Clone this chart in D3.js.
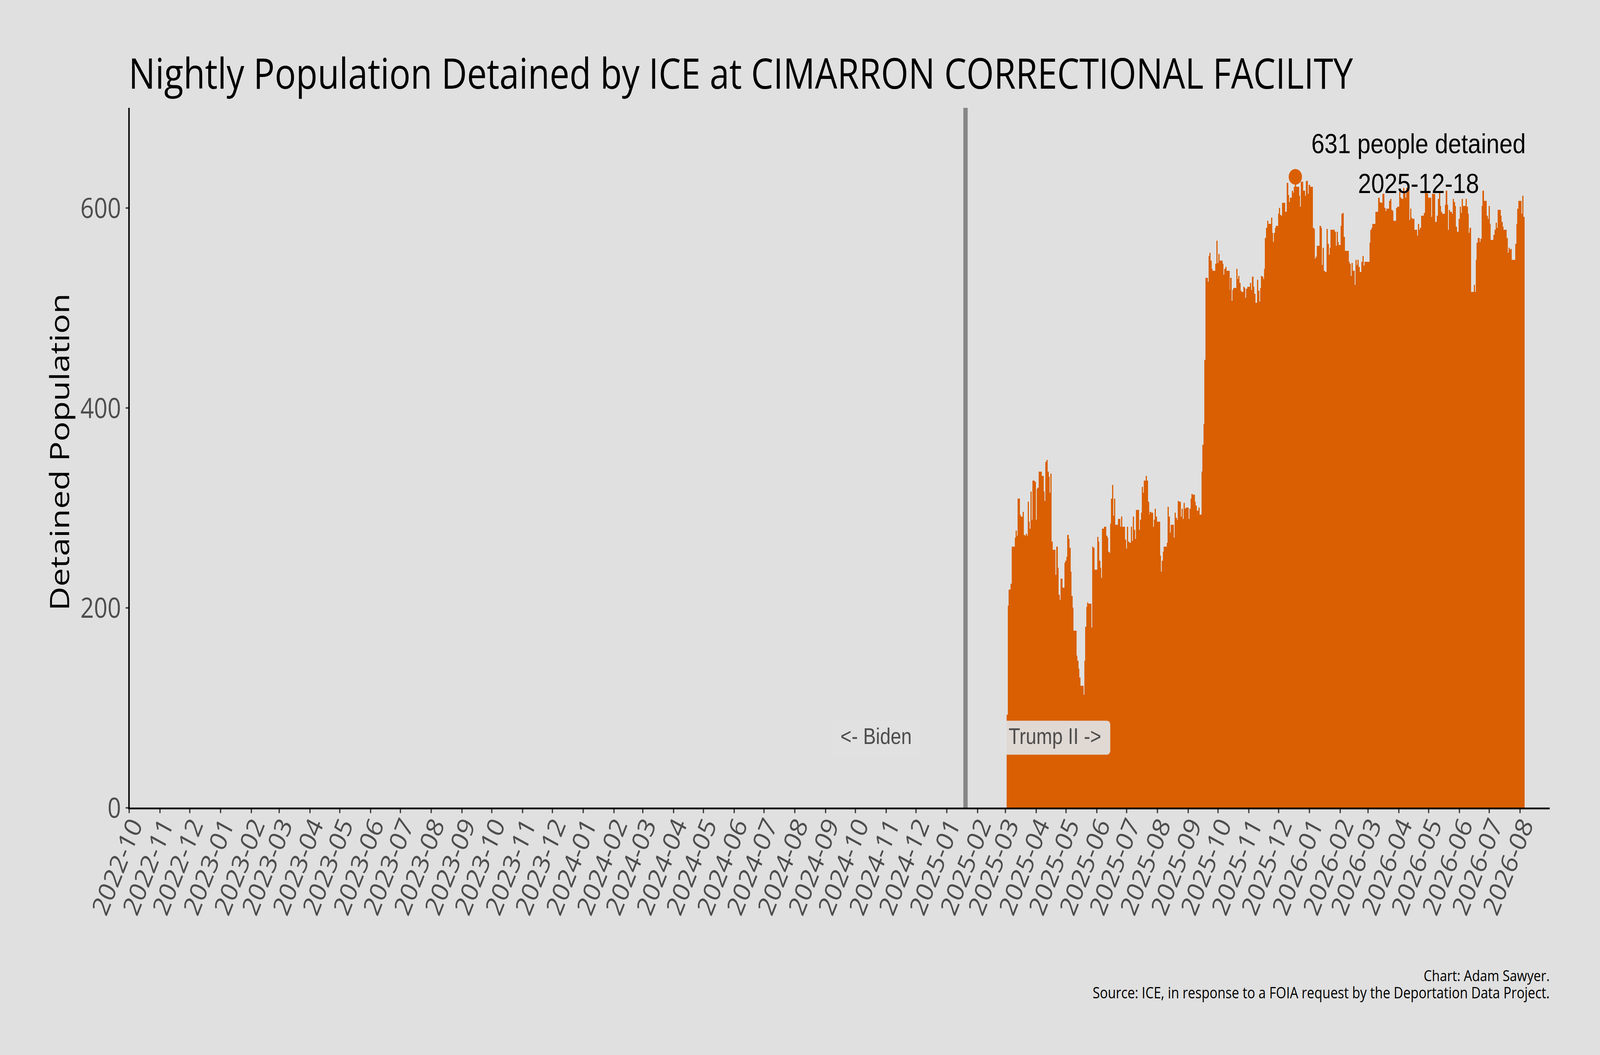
<!DOCTYPE html>
<html>
<head>
<meta charset="utf-8">
<script src="https://cdn.jsdelivr.net/npm/d3@7"></script>
<style>
  html, body { margin: 0; padding: 0; background: #e0e0e0; overflow: hidden; width: 100%; height: 100%; }
  svg { display: block; width: 100vw; height: 100vh; }
</style>
</head>
<body>
<svg id="chart" viewBox="0 0 4800 2700" preserveAspectRatio="none"></svg>
<script>
// ---------------- data ----------------
const titleText = "Nightly Population Detained by ICE at CIMARRON CORRECTIONAL FACILITY";
const yAxisTitle = "Detained Population";
const captionLines = [
  "Chart: Adam Sawyer.",
  "Source: ICE, in response to a FOIA request by the Deportation Data Project."
];
const xDomain = ["2022-10-01", "2026-08-31"];
const yDomain = [0, 700];
const yTicks = [0, 200, 400, 600];
const tickFormat = "%Y-%m";

const firstDate = "2025-03-03";   // one value per night from this date
const nightlyValues = [
  93,202,218,218,224,261,261,261,270,277,
  272,309,309,293,291,291,296,273,272,274,
  272,306,286,279,316,288,327,327,326,288,
  319,320,336,336,336,332,332,316,307,346,
  348,336,331,315,334,266,258,258,258,233,
  261,240,213,208,229,229,220,220,245,247,
  251,273,269,260,236,212,200,177,177,177,
  152,147,139,130,122,122,122,113,147,181,
  201,205,204,204,204,180,261,260,238,238,
  238,271,266,247,240,230,279,279,281,281,
  272,270,256,255,284,309,323,292,309,283,
  283,283,289,289,281,291,281,281,281,268,
  259,281,266,265,265,281,267,291,278,269,
  298,298,298,278,288,295,321,315,327,327,
  332,327,306,293,296,295,295,281,288,299,
  291,286,286,286,252,236,247,256,261,261,
  261,265,301,291,275,283,283,283,270,295,
  290,288,307,306,306,291,299,289,305,299,
  300,300,300,289,299,309,314,313,313,306,
  302,297,297,300,293,293,336,363,384,448,
  530,530,526,552,555,547,539,537,537,537,
  544,567,545,554,547,547,547,544,533,539,
  541,537,537,537,518,530,507,518,520,520,
  520,539,529,532,525,517,516,516,521,520,
  510,519,521,521,521,525,518,531,521,514,
  505,505,528,517,506,520,532,531,529,539,
  570,580,587,584,584,584,590,575,566,575,
  580,582,582,594,600,593,592,605,605,605,
  596,596,625,613,606,610,610,617,615,621,
  631,621,621,621,612,601,626,626,617,617,
  612,627,627,614,623,621,621,621,580,579,
  549,551,562,562,562,582,580,543,560,537,
  536,536,579,564,553,560,578,578,578,578,
  576,562,576,566,563,563,582,594,595,571,
  557,557,557,557,546,544,532,545,537,537,
  523,548,543,548,541,536,536,546,552,542,
  546,546,546,546,546,565,578,580,584,584,
  584,596,596,596,610,606,605,605,614,614,
  600,597,599,599,599,607,609,598,597,587,
  587,587,600,601,601,616,610,609,609,620,
  615,610,620,616,620,588,599,590,589,589,
  578,578,578,572,584,578,580,592,592,592,
  595,616,616,614,610,610,610,591,614,614,
  614,586,586,592,609,616,602,596,594,594,
  594,603,617,603,578,598,596,596,594,609,
  606,602,581,576,576,589,601,595,609,602,
  602,602,609,601,594,575,580,516,516,516,
  523,516,548,565,570,570,566,569,602,617,
  607,607,607,592,589,602,584,568,568,568,
  573,578,585,580,598,598,598,592,586,581,
  578,578,578,570,555,560,558,559,548,548,
  548,548,564,584,599,607,607,607,594,612,
  591
];

const inaugurationDate = "2025-01-20";
const eraLabels = ["<- Biden", "Trump II ->"];
const eraOffsetDays = [-90, 90];
const eraLabelValue = 70;

const peakDate = "2025-12-18";
const peakValue = 631;
const peakLabelLines = [peakValue + " people detained", peakDate];

// ---------------- layout / style ----------------
const W = 4800, H = 2700;
const plot = { left: 387, right: 4649, top: 276, bottom: 2067 };
const BG = "#e0e0e0";
const BAR = "#D95F02";
const TICK_TEXT = "#4d4d4d";
const SANS = "'Open Sans', 'Noto Sans', sans-serif";
const ARIAL = "'Liberation Sans', Arial, sans-serif";

const parse = d3.utcParse("%Y-%m-%d");
const x = d3.scaleUtc().domain(xDomain.map(parse)).range([plot.left, plot.right]);
const y = d3.scaleLinear().domain(yDomain).range([plot.bottom, plot.top]);

const start = parse(firstDate);
const data = nightlyValues.map((v, i) => ({ date: d3.utcDay.offset(start, i), value: v }));

const svg = d3.select("#chart");
svg.append("rect").attr("width", W).attr("height", H).attr("fill", BG);

// bars
svg.append("g")
  .selectAll("rect")
  .data(data)
  .join("rect")
  .attr("x", d => x(d3.utcHour.offset(d.date, -12)))
  .attr("width", d => x(d3.utcHour.offset(d.date, 12)) - x(d3.utcHour.offset(d.date, -12)) + 0.7)
  .attr("y", d => y(d.value))
  .attr("height", d => y(0) - y(d.value))
  .attr("fill", BAR)
  .attr("shape-rendering", "crispEdges");

// inauguration line
const inaug = parse(inaugurationDate);
svg.append("line")
  .attr("x1", x(inaug)).attr("x2", x(inaug))
  .attr("y1", y(yDomain[1])).attr("y2", y(0))
  .attr("stroke", "#878787").attr("stroke-width", 13);

// era labels with boxes
eraLabels.forEach((lab, i) => {
  const cx = x(d3.utcDay.offset(inaug, eraOffsetDays[i]));
  const cy = y(eraLabelValue);
  const g = svg.append("g");
  const rect = g.append("rect");
  const t = g.append("text")
    .attr("x", cx).attr("y", cy + 16)
    .attr("text-anchor", "middle")
    .attr("font-family", ARIAL)
    .attr("font-size", 57)
    .attr("fill", TICK_TEXT)
    .text(lab);
  const w = t.node().getComputedTextLength();
  rect.attr("x", cx - w / 2 - 27).attr("y", cy - 43.5)
    .attr("width", w + 54).attr("height", 87)
    .attr("rx", 10).attr("ry", 10)
    .attr("fill", BG).attr("fill-opacity", 0.94);
});

// peak point + annotation
const pd = parse(peakDate);
svg.append("circle")
  .attr("cx", x(pd)).attr("cy", y(peakValue)).attr("r", 20)
  .attr("fill", BAR);
const annX = x(d3.utcDay.offset(pd, 124));
svg.append("text")
  .attr("x", annX).attr("y", y(peakValue) - 61)
  .attr("text-anchor", "middle").attr("font-family", ARIAL).attr("font-size", 71)
  .attr("fill", "#000").text(peakLabelLines[0]);
svg.append("text")
  .attr("x", annX).attr("y", y(peakValue) + 41)
  .attr("text-anchor", "middle").attr("font-family", ARIAL).attr("font-size", 71)
  .attr("fill", "#000").text(peakLabelLines[1]);

// x axis
const xAxisY = 2069;
const xAxis = d3.axisBottom(x)
  .ticks(d3.utcMonth.every(1))
  .tickFormat(d3.utcFormat(tickFormat))
  .tickSize(12);
const gx = svg.append("g").attr("transform", `translate(0,${xAxisY})`).call(xAxis);
gx.select(".domain").remove();
gx.selectAll(".tick line").attr("stroke", "#333333").attr("stroke-width", 3.6);
gx.selectAll(".tick text")
  .attr("x", null).attr("y", null).attr("dy", "0.66em")
  .attr("transform", "translate(0,21) rotate(-65)")
  .attr("text-anchor", "end")
  .attr("font-family", SANS)
  .attr("font-size", 70)
  .attr("fill", TICK_TEXT);

// y axis
const yAxis = d3.axisLeft(y).tickValues(yTicks).tickSize(10).tickPadding(14);
const gy = svg.append("g").attr("transform", `translate(${plot.left},0)`).call(yAxis);
gy.select(".domain").remove();
gy.selectAll(".tick line").attr("stroke", "#333333").attr("stroke-width", 3.6);
gy.selectAll(".tick text")
  .attr("dy", "0.36em")
  .attr("font-family", SANS)
  .attr("font-size", 71)
  .attr("fill", TICK_TEXT);

// axis lines
svg.append("line")
  .attr("x1", plot.left).attr("x2", plot.left)
  .attr("y1", plot.top).attr("y2", xAxisY + 2)
  .attr("stroke", "#000").attr("stroke-width", 4.4);
svg.append("line")
  .attr("x1", plot.left - 2).attr("x2", plot.right)
  .attr("y1", xAxisY).attr("y2", xAxisY)
  .attr("stroke", "#000").attr("stroke-width", 4.6);

// title
svg.append("text")
  .attr("x", 386).attr("y", 227)
  .attr("font-family", SANS).attr("font-size", 108)
  .attr("fill", "#000")
  .attr("textLength", 3673).attr("lengthAdjust", "spacingAndGlyphs")
  .text(titleText);

// y axis title
svg.append("text")
  .attr("transform", "translate(207,1157) rotate(-90)")
  .attr("text-anchor", "middle")
  .attr("font-family", SANS).attr("font-size", 80)
  .attr("fill", "#000")
  .attr("textLength", 812).attr("lengthAdjust", "spacingAndGlyphs")
  .text(yAxisTitle);

// caption
const capTargets = [378, 1371];
const capBaselines = [2511, 2555];
captionLines.forEach((line, i) => {
  const t = svg.append("text")
    .attr("x", plot.right).attr("y", capBaselines[i])
    .attr("text-anchor", "end")
    .attr("font-family", SANS).attr("font-size", 40)
    .attr("fill", "#000")
    .text(line);
  const w = t.node().getComputedTextLength();
  t.attr("font-size", 40 * capTargets[i] / w);
});
</script>
</body>
</html>
